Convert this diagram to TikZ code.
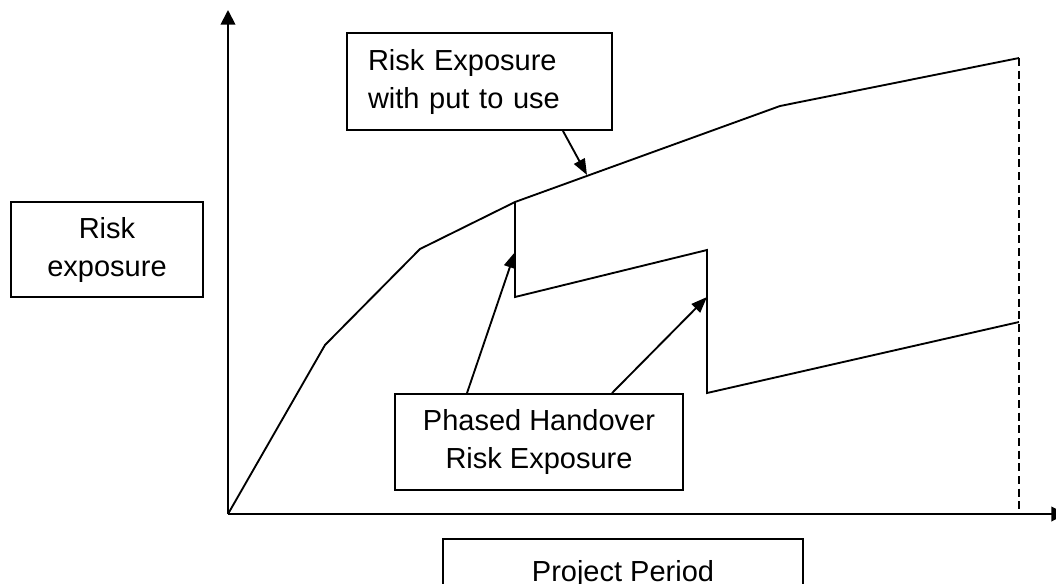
\documentclass[tikz,border=0pt]{standalone}
\usepackage{fontspec}
\setmainfont{Liberation Sans}
\usetikzlibrary{arrows.meta}

\begin{document}
\begin{tikzpicture}[
    x=0.75pt, y=-0.75pt,
    line width=1.4pt,
    every node/.style={font=\fontsize{21.75}{28.5}\selectfont},
    boks/.style={rectangle, draw, align=center, inner sep=0pt},
    pil/.style={-{Triangle[length=12pt,width=9pt]}},
    akse/.style={-{Triangle[length=11pt,width=11pt]}}
    ]
\useasboundingbox (0,0) rectangle (1056,583);

%Axes
\coordinate (O) at (228,514);
\coordinate (ytop) at (228,10);
\coordinate (xend) at (1066,514);
\draw[akse] (O) -- (ytop);
\draw[akse] (O) -- (xend);

%Upper curve
\coordinate (p1) at (325,345);
\coordinate (p2) at (420,249);
\coordinate (p3) at (515,202);
\coordinate (p4) at (780,106);
\coordinate (p5) at (1019,58);
\draw (O) -- (p1) -- (p2) -- (p3) -- (p4) -- (p5);

%Lower steps
\coordinate (q1) at (515,297);
\coordinate (q2) at (707,250);
\coordinate (q3) at (707,393);
\coordinate (q4) at (1019,322);
\draw (p3) -- (q1) -- (q2) -- (q3) -- (q4);

%End of period
\draw[line width=1.1pt, dash pattern=on 6pt off 3.5pt] (p5) -- (p5 |- O);

%Boxes
\node[boks, minimum width=144pt, minimum height=71.25pt] (risk) at (107,249.5)
    {Risk\\exposure};
\node[boks, text width=167.25pt, inner xsep=15.75pt, align=left,
    minimum height=72.75pt] (put) at (479.5,81.5)
    {Risk Exposure\\with put to use};
\node[boks, minimum width=216pt, minimum height=72pt] (phased) at (539,442)
    {Phased Handover\\Risk Exposure};
\node[boks, minimum width=270pt, minimum height=51.75pt] (period) at (623,573.5)
    {Project Period};

%Pointers to the curves
\coordinate (t1) at (587,175);
\coordinate (t2) at (515,252);
\coordinate (t3) at (707,297);
\draw[pil] ([xshift=62.6pt]put.south) -- (t1);
\draw[pil] ([xshift=-54pt]phased.north) -- (t2);
\draw[pil] ([xshift=54.75pt]phased.north) -- (t3);
\end{tikzpicture}
\end{document}
